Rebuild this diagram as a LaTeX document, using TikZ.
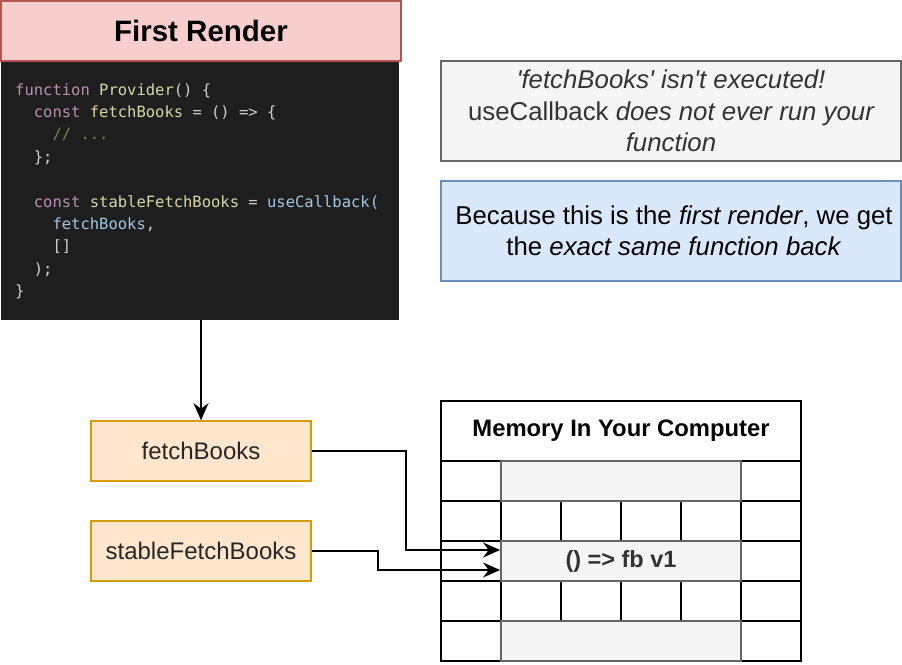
\documentclass[tikz,border=0pt]{standalone}
\usepackage{fontspec}
\setmainfont{Liberation Sans}[Ligatures=TeXOff]
\setmonofont{DejaVu Sans Mono}
\usetikzlibrary{arrows.meta,calc}
\definecolor{titlefill}{HTML}{F8CECC}
\definecolor{titleline}{HTML}{B85450}
\definecolor{codebg}{HTML}{1E1E1E}
\definecolor{kw}{HTML}{B88FB3}
\definecolor{fnc}{HTML}{D7D7A6}
\definecolor{vbl}{HTML}{9FC7E3}
\definecolor{cmt}{HTML}{6B8E4E}
\definecolor{pln}{HTML}{CFCFCF}
\definecolor{orfill}{HTML}{FFE6CC}
\definecolor{orline}{HTML}{D79B00}
\definecolor{gyfill}{HTML}{F5F5F5}
\definecolor{gyline}{HTML}{666666}
\definecolor{gytext}{HTML}{333333}
\definecolor{blfill}{HTML}{DAE8FC}
\definecolor{blline}{HTML}{6C8EBF}
\tikzset{
  codeline/.style={anchor=base west, inner sep=0pt, font=\ttfamily\fontsize{15.5}{22}\selectfont, text=pln},
  labelbox/.style={draw=orline, fill=orfill, line width=1.6pt, minimum width=220pt, minimum height=60pt, inner sep=0pt, font=\fontsize{24}{28}\selectfont, text=black!85},
  notebox/.style={line width=1.6pt, minimum width=460pt, minimum height=100pt, inner sep=0pt, align=center, font=\fontsize{25.8}{31.5}\selectfont},
  cell/.style={draw=black, line width=1.8pt, minimum width=60pt, minimum height=40pt, inner sep=0pt},
  bar/.style={draw=gyline, fill=gyfill, line width=1.8pt, minimum width=240pt, minimum height=40pt, inner sep=0pt, font=\bfseries\fontsize{23.5}{28}\selectfont, text=gytext},
  arr/.style={line width=1.6pt, -{Stealth[length=17pt,width=15pt,inset=5.5pt]}},
}
\newcommand{\kwd}[1]{\textcolor{kw}{#1}}
\newcommand{\fnn}[1]{\textcolor{fnc}{#1}}
\newcommand{\vbn}[1]{\textcolor{vbl}{#1}}
\newcommand{\cmn}[1]{\textcolor{cmt}{#1}}
\begin{document}
\begin{tikzpicture}[x=1pt,y=-1pt]
\useasboundingbox (0,0) rectangle (902,664);
% code block and title
\node[fill=codebg, minimum width=398pt, minimum height=259pt, inner sep=0pt] (code) at (200,190.5) {};
\node[draw=titleline, fill=titlefill, line width=1.6pt, minimum width=400pt, minimum height=60pt, inner sep=0pt, font=\bfseries\fontsize{29.5}{34}\selectfont] (title) at (201,31) {First Render};
\node[codeline] (l1) at (15,95) {\kwd{function} \fnn{Provider}() \{};
\node[codeline] (l2) at (15,117.4) {\ \ \kwd{const} \fnn{fetchBooks} = () => \{};
\node[codeline] (l3) at (15,139.8) {\ \ \ \ \cmn{// ...}};
\node[codeline] (l4) at (15,162.2) {\ \ \};};
\node[codeline] (l6) at (15,207) {\ \ \kwd{const} \fnn{stableFetchBooks} = \vbn{useCallback(}};
\node[codeline] (l7) at (15,229.4) {\ \ \ \ \vbn{fetchBooks},};
\node[codeline] (l8) at (15,251.8) {\ \ \ \ []};
\node[codeline] (l9) at (15,274.2) {\ \ );};
\node[codeline] (l10) at (15,296.6) {\}};
% notes
\node[notebox, draw=gyline, fill=gyfill, text=gytext] (note1) at (671,111) {\itshape 'fetchBooks' isn't executed!\\ \upshape useCallback \itshape does not ever run your\\ \itshape function};
\node[notebox, draw=blline, fill=blfill, text=black] (note2) at (671,231) {\hspace*{6pt}Because this is the \textit{first render}, we get\\ \hspace*{6pt}the \textit{exact same function back}};
% labels
\node[labelbox] (fb) at (201,451) {fetchBooks};
\node[labelbox] (sfb) at (201,551) {stableFetchBooks};
% memory grid
\node[draw=black, line width=1.8pt, minimum width=360pt, minimum height=60pt, inner sep=0pt, font=\bfseries\fontsize{23.8}{28}\selectfont] (mem) at (621,431) {Memory In Your Computer};
\node[cell] (c11) at (471,481) {};
\node[cell] (c13) at (771,481) {};
\foreach \i/\x in {1/471,2/531,3/591,4/651,5/711,6/771}{
  \node[cell] (c2\i) at (\x,521) {};
  \node[cell] (c4\i) at (\x,601) {};
}
\node[cell] (c31) at (471,561) {};
\node[cell] (c33) at (771,561) {};
\node[cell] (c51) at (471,641) {};
\node[cell] (c53) at (771,641) {};
\node[bar] (b1) at (621,481) {};
\node[bar] (v1) at (621,561) {() => fb v1};
\node[bar] (b5) at (621,641) {};
% connectors
\draw[arr] (code.south -| fb.north) -- (fb.north);
\draw[arr] (fb.east) -- ++(94,0) |- ($(v1.west)+(0,-11)$);
\draw[arr] (sfb.east) -- ++(66,0) |- ($(v1.west)+(0,9)$);
\end{tikzpicture}
\end{document}
